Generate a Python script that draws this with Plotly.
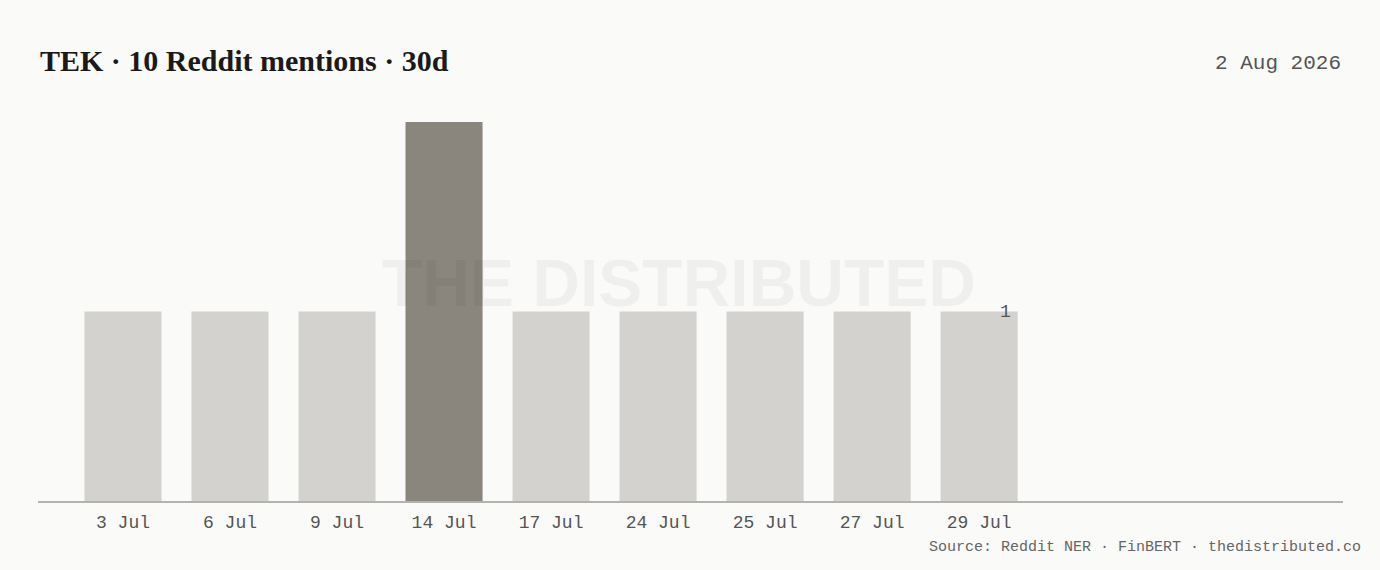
import plotly.graph_objects as go

categories = ["3 Jul", "6 Jul", "9 Jul", "14 Jul", "17 Jul", "24 Jul", "25 Jul", "27 Jul", "29 Jul"]
mentions = [1, 1, 1, 2, 1, 1, 1, 1, 1]
highlight = "14 Jul"
title_text = "TEK · 10 Reddit mentions · 30d"
date_text = "2 Aug 2026"
source_text = "Source: Reddit NER · FinBERT · thedistributed.co"

LIGHT = "#d3d2ce"
DARK = "#8a857d"
BG = "#fafaf9"
MONO = "Liberation Mono, DejaVu Sans Mono, monospace"

colors = [DARK if c == highlight else LIGHT for c in categories]

fig = go.Figure()
fig.add_trace(go.Bar(
    x=list(range(len(categories))), y=mentions,
    marker=dict(color=colors, line=dict(width=0)),
    width=0.72, hoverinfo="skip",
))

fig.update_layout(
    width=1380, height=570,
    paper_bgcolor=BG, plot_bgcolor=BG,
    margin=dict(l=38, r=37, t=122, b=69),
    showlegend=False,
    xaxis=dict(
        range=[-0.794, 11.40],
        tickmode="array", tickvals=list(range(len(categories))), ticktext=categories,
        showgrid=False, zeroline=False, showline=True, linecolor="#b3b2ae", linewidth=1.5,
        ticks="", ticklabelstandoff=4, tickfont=dict(family=MONO, size=18, color="#555"),
    ),
    yaxis=dict(range=[0, 2], visible=False, showgrid=False, zeroline=False),
    annotations=[
        dict(text="<b>THE DISTRIBUTED</b>", xref="paper", yref="paper", x=0.4915, y=0.575,
             xanchor="center", yanchor="middle", showarrow=False,
             font=dict(family="Liberation Sans, Arial, sans-serif", size=66, color="rgba(0,0,0,0.045)")),
        dict(text="<b>" + title_text + "</b>", xref="paper", yref="paper", x=0, y=1.0, yshift=62,
             xanchor="left", yanchor="middle", showarrow=False,
             font=dict(family="Liberation Serif, DejaVu Serif, serif", size=30, color="#1a1a1a")),
        dict(text=date_text, xref="paper", yref="paper", x=1, y=1.0, yshift=59,
             xanchor="right", yanchor="middle", showarrow=False,
             font=dict(family=MONO, size=21, color="#555")),
        dict(text=source_text, xref="paper", yref="paper", x=1, y=0, yshift=-46, xshift=20,
             xanchor="right", yanchor="middle", showarrow=False,
             font=dict(family=MONO, size=15, color="#666")),
        dict(text=str(mentions[-1]), x=len(categories) - 1, y=mentions[-1], xshift=26,
             xanchor="center", yanchor="middle", showarrow=False,
             font=dict(family=MONO, size=18, color="#555")),
    ],
)

fig.write_html("out.html", config={"displayModeBar": False},
               post_script="document.body.style.margin='0';document.body.style.background='%s';" % BG)
